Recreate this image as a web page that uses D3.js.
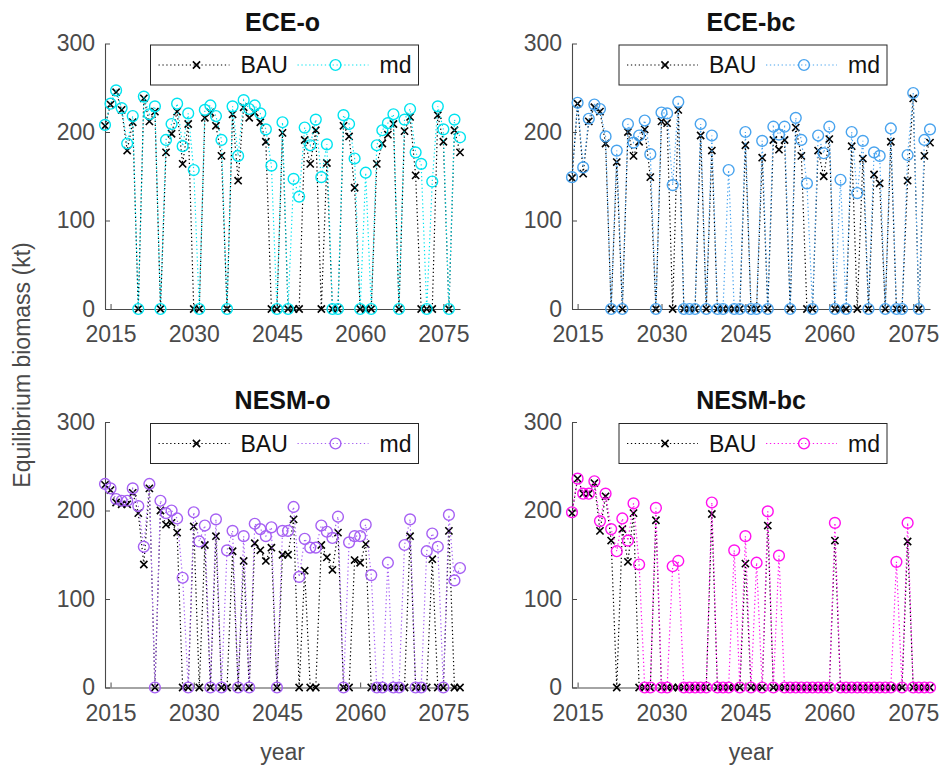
<!DOCTYPE html>
<html>
<head>
<meta charset="utf-8">
<script src="https://cdn.jsdelivr.net/npm/d3@7"></script>
<style>
  body { margin: 0; background: #fff; }
  svg text { font-family: "Liberation Sans", Arial, Helvetica, sans-serif; }
</style>
</head>
<body>
<svg id="chart" width="951" height="767"></svg>
<script>
// years on the x axis (one point per year)
var years = [2014, 2015, 2016, 2017, 2018, 2019, 2020, 2021, 2022, 2023,
  2024, 2025, 2026, 2027, 2028, 2029, 2030, 2031, 2032, 2033,
  2034, 2035, 2036, 2037, 2038, 2039, 2040, 2041, 2042, 2043,
  2044, 2045, 2046, 2047, 2048, 2049, 2050, 2051, 2052, 2053,
  2054, 2055, 2056, 2057, 2058, 2059, 2060, 2061, 2062, 2063,
  2064, 2065, 2066, 2067, 2068, 2069, 2070, 2071, 2072, 2073,
  2074, 2075, 2076, 2077, 2078];

var xTicks = [2015, 2030, 2045, 2060, 2075];
var yTicks = [0, 100, 200, 300];
var seriesNames = ["BAU", "md"];

// ECE-o
var eceoBAU = [207, 231, 245, 225, 179, 211, 0, 238, 212, 223,
  0, 177, 198, 223, 164, 209, 0, 0, 216, 222,
  207, 173, 0, 220, 145, 228, 216, 222, 211, 189,
  0, 0, 199, 0, 0, 0, 191, 164, 202, 0,
  165, 0, 0, 207, 195, 137, 0, 0, 0, 164,
  187, 197, 209, 0, 201, 217, 151, 0, 0, 0,
  219, 189, 0, 202, 177];
var eceoMD = [208, 232, 247, 227, 187, 218, 0, 240, 220, 229,
  0, 191, 209, 232, 184, 221, 157, 0, 225, 230,
  218, 191, 0, 229, 173, 236, 226, 230, 221, 203,
  162, 0, 211, 0, 147, 127, 205, 185, 214, 149,
  186, 0, 0, 219, 209, 170, 0, 154, 0, 185,
  202, 210, 220, 0, 214, 226, 177, 164, 0, 144,
  229, 203, 0, 214, 194];

// ECE-bc
var ecebcBAU = [148, 232, 153, 212, 228, 223, 187, 0, 166, 0,
  200, 173, 189, 203, 149, 0, 212, 210, 0, 225,
  0, 0, 0, 196, 0, 179, 0, 0, 0, 0,
  0, 185, 0, 0, 171, 0, 191, 180, 191, 0,
  205, 173, 0, 0, 179, 150, 192, 0, 0, 0,
  184, 0, 170, 0, 152, 142, 0, 189, 0, 0,
  145, 238, 0, 173, 188];
var ecebcMD = [149, 233, 160, 215, 231, 226, 195, 0, 179, 0,
  209, 188, 196, 213, 175, 0, 222, 221, 140, 234,
  0, 0, 0, 209, 0, 196, 0, 0, 157, 0,
  0, 200, 0, 0, 190, 0, 206, 197, 206, 0,
  216, 191, 142, 0, 196, 176, 206, 0, 146, 0,
  200, 131, 190, 0, 177, 173, 0, 204, 0, 0,
  174, 244, 0, 191, 203];

// NESM-o
var nesmoBAU = [229, 223, 209, 207, 207, 220, 197, 139, 225, 0,
  200, 184, 186, 175, 0, 0, 182, 0, 161, 0,
  171, 0, 0, 154, 0, 143, 0, 163, 155, 143,
  158, 0, 150, 150, 190, 0, 132, 0, 0, 161,
  147, 133, 175, 0, 0, 144, 141, 162, 0, 0,
  0, 0, 0, 0, 0, 171, 0, 0, 0, 145,
  0, 0, 177, 0, 0];
var nesmoMD = [230, 225, 213, 211, 211, 225, 205, 159, 230, 0,
  211, 197, 200, 191, 124, 0, 198, 165, 183, 0,
  190, 0, 155, 177, 0, 171, 0, 185, 179, 171,
  181, 0, 177, 177, 204, 125, 168, 158, 158, 183,
  176, 169, 193, 0, 164, 171, 171, 184, 127, 0,
  0, 141, 0, 0, 161, 190, 0, 0, 154, 174,
  159, 0, 195, 121, 135];

// NESM-bc
var nesmbcBAU = [197, 236, 219, 219, 231, 177, 216, 166, 0, 179,
  142, 197, 0, 0, 0, 189, 0, 0, 0, 0,
  0, 0, 0, 0, 0, 196, 0, 0, 0, 0,
  0, 140, 0, 0, 0, 183, 0, 0, 0, 0,
  0, 0, 0, 0, 0, 0, 0, 166, 0, 0,
  0, 0, 0, 0, 0, 0, 0, 0, 0, 0,
  165, 0, 0, 0, 0];
var nesmbcMD = [198, 236, 219, 219, 233, 188, 219, 179, 154, 191,
  166, 208, 139, 0, 0, 203, 0, 0, 137, 143,
  0, 0, 0, 0, 0, 209, 0, 0, 0, 155,
  0, 171, 0, 141, 0, 199, 0, 149, 0, 0,
  0, 0, 0, 0, 0, 0, 0, 186, 0, 0,
  0, 0, 0, 0, 0, 0, 0, 0, 142, 0,
  186, 0, 0, 0, 0];

var axisColor = "#4a4a4a";
var fontSize = 23;

// panel layout
var panels = [
  {title: "ECE-o",   bau: eceoBAU,   md: eceoMD,   color: "#00e3ef", left: 105, right: 460, top: 43.5, bottom: 309},
  {title: "ECE-bc",  bau: ecebcBAU,  md: ecebcMD,  color: "#48a3ee", left: 572, right: 930, top: 43.5, bottom: 309},
  {title: "NESM-o",  bau: nesmoBAU,  md: nesmoMD,  color: "#a660f3", left: 105, right: 460, top: 422,  bottom: 687.5, xlabel: true},
  {title: "NESM-bc", bau: nesmbcBAU, md: nesmbcMD, color: "#ff11ee", left: 572, right: 930, top: 422,  bottom: 687.5, xlabel: true}
];

var svg = d3.select("#chart");

function xMarker(g, cx, cy, s) {
  g.append("path")
    .attr("d", "M" + (cx - s) + "," + (cy - s) + "L" + (cx + s) + "," + (cy + s) +
               "M" + (cx - s) + "," + (cy + s) + "L" + (cx + s) + "," + (cy - s))
    .attr("stroke", "#000").attr("stroke-width", 1.6).attr("fill", "none");
}

panels.forEach(function(p) {
  var x = d3.scaleLinear().domain([2014, 2078]).range([p.left, p.right]);
  var y = d3.scaleLinear().domain([0, 300]).range([p.bottom, p.top]);
  var g = svg.append("g");

  // axes (MATLAB style, ticks inside, no box)
  var ya = g.append("g").attr("transform", "translate(" + p.left + ",0)")
    .call(d3.axisLeft(y).tickValues(yTicks).tickSizeInner(-5).tickSizeOuter(0).tickPadding(10));
  var xa = g.append("g").attr("transform", "translate(0," + p.bottom + ")")
    .call(d3.axisBottom(x).tickValues(xTicks).tickFormat(d3.format("d")).tickSizeInner(-5).tickSizeOuter(0).tickPadding(17));
  [ya, xa].forEach(function(a) {
    a.select(".domain").attr("stroke", axisColor).attr("stroke-width", 1.1);
    a.selectAll(".tick line").attr("stroke", axisColor).attr("stroke-width", 1);
    a.selectAll("text").attr("fill", axisColor).style("font-size", fontSize + "px");
  });

  var line = d3.line().x(function(d, i) { return x(years[i]); }).y(function(d) { return y(d); });

  // BAU series
  g.append("path").datum(p.bau)
    .attr("d", line).attr("fill", "none")
    .attr("stroke", "#000").attr("stroke-width", 1.2).attr("stroke-dasharray", "1.3,2.6");
  p.bau.forEach(function(v, i) { xMarker(g, x(years[i]), y(v), 3.6); });

  // md series
  g.append("path").datum(p.md)
    .attr("d", line).attr("fill", "none")
    .attr("stroke", p.color).attr("stroke-width", 1.2).attr("stroke-dasharray", "1.3,2.6");
  g.selectAll("circle.md").data(p.md).enter().append("circle")
    .attr("class", "md")
    .attr("cx", function(d, i) { return x(years[i]); })
    .attr("cy", function(d) { return y(d); })
    .attr("r", 5.4)
    .attr("fill", "none").attr("stroke", p.color).attr("stroke-width", 1.4);

  // title
  var cx = (p.left + p.right) / 2;
  g.append("text").attr("x", cx).attr("y", p.top - 13)
    .attr("text-anchor", "middle").attr("font-weight", "bold")
    .style("font-size", "25px").attr("fill", "#111").text(p.title);

  // legend
  var lx = cx - 132, ly = p.top + 1.5;
  var lg = g.append("g").attr("transform", "translate(" + lx + "," + ly + ")");
  lg.append("rect").attr("width", 268).attr("height", 40)
    .attr("fill", "#fff").attr("stroke", "#262626").attr("stroke-width", 1);
  lg.append("line").attr("x1", 8).attr("x2", 79).attr("y1", 20).attr("y2", 20)
    .attr("stroke", "#000").attr("stroke-width", 1.2).attr("stroke-dasharray", "1.3,2.6");
  xMarker(lg, 46, 20, 3.6);
  lg.append("text").attr("x", 90).attr("y", 28).style("font-size", fontSize + "px")
    .attr("fill", "#111").text(seriesNames[0]);
  lg.append("line").attr("x1", 147).attr("x2", 218).attr("y1", 20).attr("y2", 20)
    .attr("stroke", p.color).attr("stroke-width", 1.2).attr("stroke-dasharray", "1.3,2.6");
  lg.append("circle").attr("cx", 185).attr("cy", 20).attr("r", 5.4)
    .attr("fill", "none").attr("stroke", p.color).attr("stroke-width", 1.4);
  lg.append("text").attr("x", 229).attr("y", 28).style("font-size", fontSize + "px")
    .attr("fill", "#111").text(seriesNames[1]);

  if (p.xlabel) {
    g.append("text").attr("x", cx).attr("y", 760)
      .attr("text-anchor", "middle").style("font-size", fontSize + "px")
      .attr("fill", axisColor).text("year");
  }
});

// shared y label
svg.append("text")
  .attr("transform", "translate(30,365) rotate(-90)")
  .attr("text-anchor", "middle").style("font-size", fontSize + "px")
  .attr("fill", axisColor).text("Equilibrium biomass (kt)");
</script>
</body>
</html>
